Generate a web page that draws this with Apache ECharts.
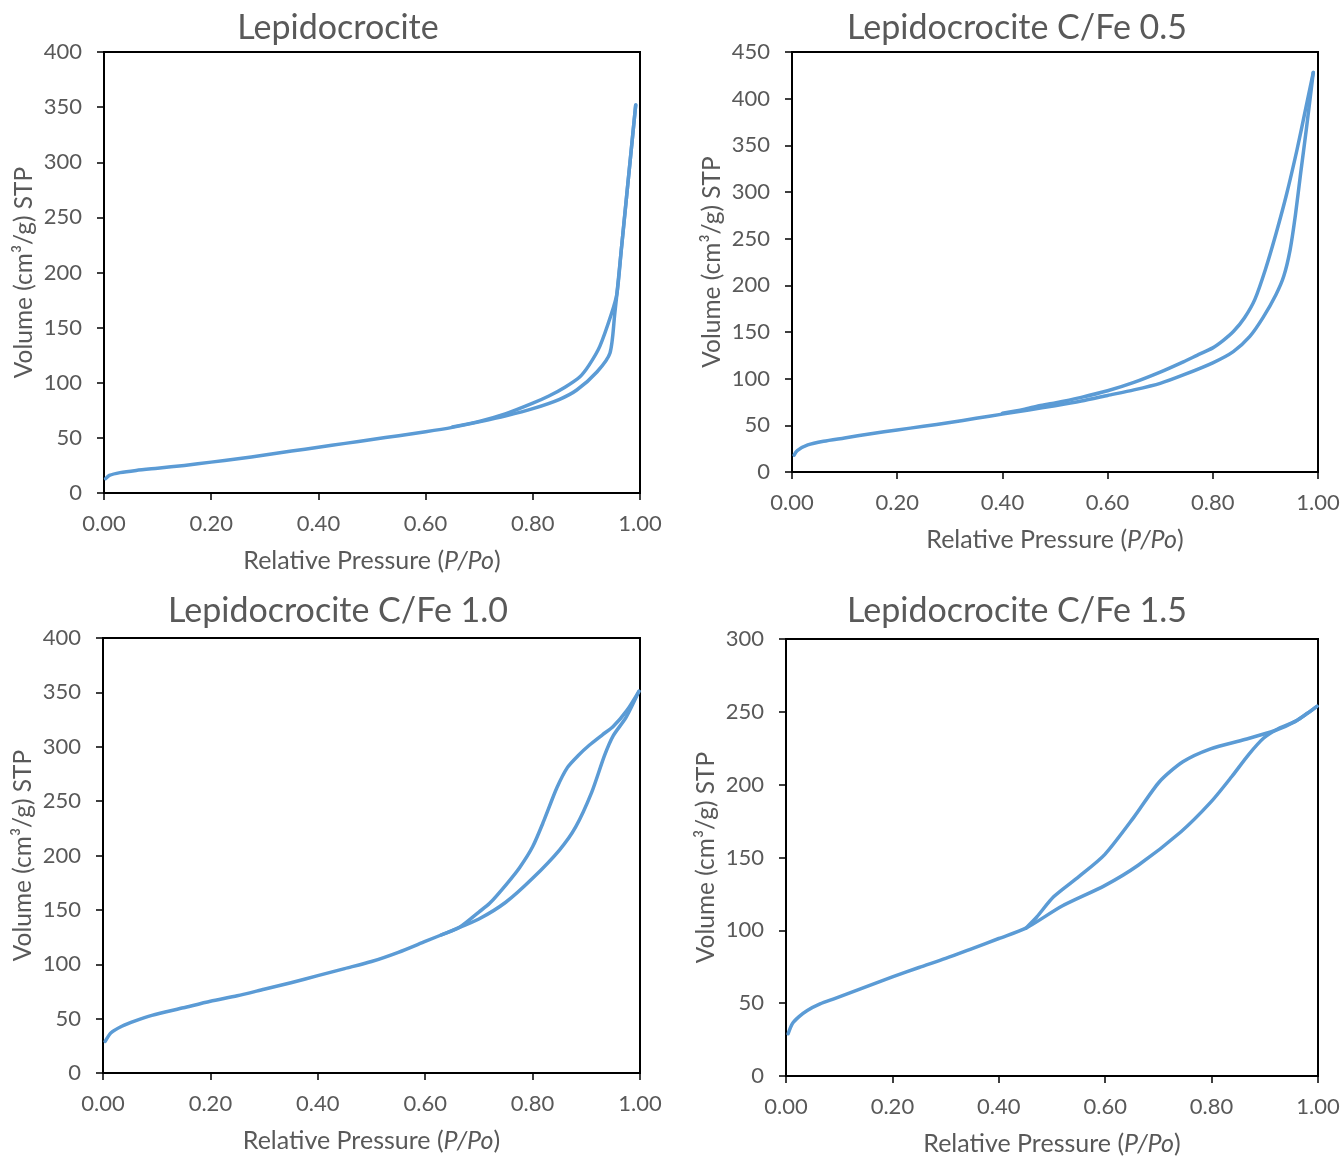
<!DOCTYPE html>
<html>
<head>
<meta charset="utf-8">
<script src="https://cdn.jsdelivr.net/npm/echarts@6/dist/echarts.min.js"></script>
<style>
  html, body { margin: 0; padding: 0; background: #fff; }
  #chart { width: 1344px; height: 1161px; }
</style>
</head>
<body>
<div id="chart"></div>
<script>
// ---- Data (relative pressure P/Po, volume cm3/g STP) ----
const panelTitles = ['Lepidocrocite', 'Lepidocrocite C/Fe 0.5', 'Lepidocrocite C/Fe 1.0', 'Lepidocrocite C/Fe 1.5'];
const xTicks = [0, 0.2, 0.4, 0.6, 0.8, 1.0];
const yMaxes = [400, 450, 400, 300];

const lepAds = [[0.003,13],[0.01,16],[0.03,18.5],[0.06,20.5],[0.1,22.5],[0.15,25],[0.2,28],[0.25,31],[0.3,34.5],[0.35,38],[0.4,41.5],[0.45,45],[0.5,48.5],[0.55,52],[0.6,55.5],[0.65,59.5],[0.7,64.5],[0.75,70],[0.8,76.5],[0.85,85],[0.882,93.4],[0.92,110],[0.944,127],[0.953,163],[0.957,181],[0.965,220],[0.975,269],[0.992,352]];
const lepDes = [[0.992,352],[0.975,269],[0.965,220],[0.957,181],[0.947,163],[0.925,133],[0.905,116],[0.888,105.5],[0.86,96],[0.83,88],[0.8,81.5],[0.75,72],[0.7,65],[0.65,60]];

const cf05Ads = [[0.004,18],[0.01,23],[0.03,29],[0.06,33],[0.1,36.5],[0.15,41],[0.2,45],[0.25,49],[0.3,53],[0.35,57.5],[0.4,62],[0.45,66.5],[0.5,71],[0.55,76],[0.6,82],[0.65,88],[0.7,95],[0.744,104],[0.8,117],[0.839,129],[0.87,145],[0.896,166],[0.92,190],[0.935,210],[0.947,238],[0.957,275],[0.967,320],[0.978,368],[0.991,428]];
const cf05Des = [[0.991,428],[0.975,385],[0.96,345],[0.94,297],[0.92,255],[0.9,217],[0.88,185],[0.86,165],[0.84,151],[0.82,141],[0.8,133],[0.77,125],[0.744,118],[0.7,107],[0.65,96],[0.6,87],[0.55,80],[0.5,74],[0.47,71],[0.44,67],[0.4,63]];

const cf10Ads = [[0.004,29],[0.015,37],[0.035,43],[0.06,48],[0.091,53],[0.15,60],[0.2,66],[0.25,71],[0.3,77],[0.35,83],[0.4,89.5],[0.45,96],[0.5,102.5],[0.55,111],[0.6,121],[0.65,131],[0.7,141.6],[0.75,157],[0.8,179],[0.85,205],[0.88,226],[0.91,258],[0.934,292],[0.95,310],[0.974,327],[0.998,351]];
const cf10Des = [[0.998,351],[0.975,333],[0.95,318.6],[0.93,311],[0.906,301.6],[0.885,292],[0.865,281],[0.845,262],[0.821,232],[0.8,208],[0.776,189],[0.752,174],[0.72,156],[0.7,148],[0.664,134],[0.63,127]];

const cf15Ads = [[0.004,29],[0.012,36],[0.024,40.6],[0.04,45],[0.064,49.5],[0.09,53],[0.12,57],[0.16,62.5],[0.2,68],[0.25,74.5],[0.3,80.7],[0.35,87.5],[0.4,94.4],[0.451,101.5],[0.519,116.7],[0.599,130.7],[0.662,144.7],[0.742,167.5],[0.798,187.8],[0.838,205.6],[0.87,220.8],[0.898,232],[0.926,238.6],[0.958,243.6],[0.98,249],[0.998,253.8]];
const cf15Des = [[0.998,253.8],[0.958,243.6],[0.918,237],[0.862,231],[0.798,224.6],[0.746,215.7],[0.702,202],[0.654,177.7],[0.599,152],[0.551,137],[0.503,123],[0.471,109],[0.451,101.5]];

const panelData = [[lepAds, lepDes], [cf05Ads, cf05Des], [cf10Ads, cf10Des], [cf15Ads, cf15Des]];

// ---- Layout ----
const grids = [
  { left: 104, top: 52, width: 536, height: 441 },
  { left: 792, top: 52, width: 526, height: 420 },
  { left: 103, top: 638, width: 537, height: 435 },
  { left: 786, top: 639, width: 532, height: 437 }
];
const titlePos = [
  { left: 338, top: 11 },
  { left: 1017, top: 11 },
  { left: 338, top: 594 },
  { left: 1017, top: 594 }
];

const FONT = 'Lato, "Open Sans", sans-serif';
const TXT = '#595959';
const LINE = '#5B9BD5';

const option = {
  animation: false,
  backgroundColor: '#fff',
  title: panelTitles.map((t, i) => ({
    text: t,
    left: titlePos[i].left,
    top: titlePos[i].top,
    textAlign: 'center',
    padding: 0,
    textStyle: { fontFamily: FONT, fontSize: 34, fontWeight: 'normal', color: TXT }
  })),
  grid: grids.map(g => Object.assign({ show: true, borderColor: '#000', borderWidth: 2, backgroundColor: 'transparent', containLabel: false }, g)),
  xAxis: grids.map((g, i) => ({
    type: 'value', gridIndex: i, min: 0, max: 1, interval: 0.2,
    name: 'Relative Pressure ({i|P/Po})',
    nameLocation: 'middle', nameGap: 55,
    nameTextStyle: { fontFamily: FONT, fontSize: 25, color: TXT, rich: { i: { fontFamily: FONT, fontSize: 25, color: TXT, fontStyle: 'italic' } } },
    axisLine: { show: true, onZero: false, lineStyle: { color: '#000', width: 2 } },
    axisTick: { show: true, inside: false, length: 7, lineStyle: { color: '#000', width: 1.5 } },
    axisLabel: { fontFamily: FONT, fontSize: 22, color: TXT, margin: 20, formatter: v => v.toFixed(2) },
    splitLine: { show: false }
  })),
  yAxis: grids.map((g, i) => ({
    type: 'value', gridIndex: i, min: 0, max: yMaxes[i], interval: 50,
    name: 'Volume (cm³/g) STP',
    nameLocation: 'middle', nameGap: 67, nameRotate: 90,
    nameTextStyle: { fontFamily: FONT, fontSize: 24.5, color: TXT },
    axisLine: { show: true, onZero: false, lineStyle: { color: '#000', width: 2 } },
    axisTick: { show: true, inside: false, length: 7, lineStyle: { color: '#000', width: 1.5 } },
    axisLabel: { fontFamily: FONT, fontSize: 22, color: TXT, margin: 22 },
    splitLine: { show: false }
  })),
  series: []
};

panelData.forEach((pair, i) => {
  pair.forEach((branch, k) => {
    option.series.push({
      type: 'line',
      name: panelTitles[i] + (k === 0 ? ' adsorption' : ' desorption'),
      xAxisIndex: i, yAxisIndex: i,
      data: branch,
      showSymbol: false, symbol: 'none',
      smooth: 0.25,
      lineStyle: { color: LINE, width: 3.5, cap: 'round', join: 'round' },
      itemStyle: { color: LINE },
      z: 3
    });
  });
});

const chart = echarts.init(document.getElementById('chart'), null, { renderer: 'canvas' });
chart.setOption(option);
</script>
</body>
</html>
